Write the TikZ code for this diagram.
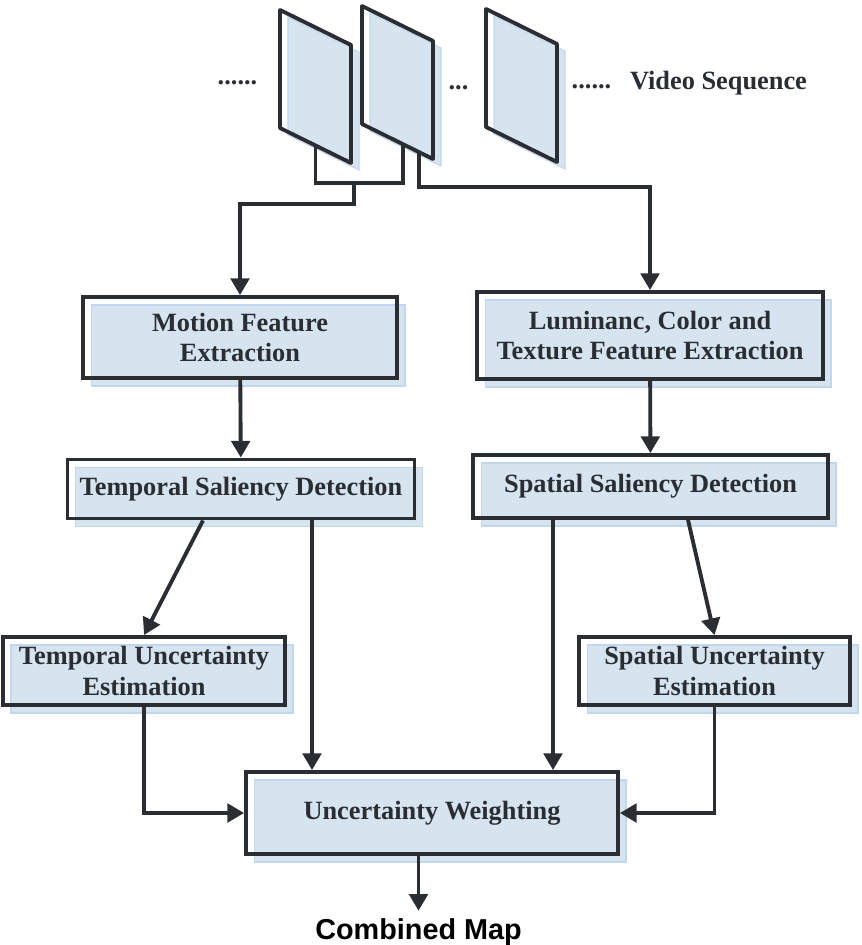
\documentclass[tikz,border=0pt]{standalone}
\usepackage{fontspec}
\setmainfont{Liberation Serif}
\newfontfamily\arialfont{Liberation Sans}
\usetikzlibrary{arrows.meta,calc,shadows}
\definecolor{linegray}{RGB}{42,46,51}
\definecolor{paleblue}{RGB}{214,228,240}
\definecolor{edgeblue}{RGB}{194,214,238}

\tikzset{
  blk/.style={draw=linegray, line width=2.2pt, align=center, text=linegray,
    font=\bfseries\fontsize{15}{17.6}\selectfont, inner sep=0pt,
    drop shadow={shadow xshift=0.16cm, shadow yshift=-0.16cm, fill=paleblue,
      draw=edgeblue, line width=0.6pt, opacity=1}},
  lbl/.style={text=linegray, font=\bfseries\fontsize{15}{17.6}\selectfont, anchor=base, inner sep=0pt},
  wire/.style={draw=linegray, line width=2.2pt},
  arr/.style={wire, -{Triangle[length=9.5pt,width=10.5pt]}}
}

\begin{document}
\begin{tikzpicture}[x=0.02cm,y=-0.02cm]
\useasboundingbox (0,0) rectangle (861,945);
% video frames
\foreach \i/\x/\y in {1/280/10, 2/362/6, 3/486/9} {
  \fill[paleblue, draw=edgeblue, line width=0.6pt] (\x+8,\y+7) -- ++(71,35) -- ++(0,118) -- ++(-71,-35) -- cycle;
  \draw[wire, line join=round] (\x,\y) coordinate (f\i tl) -- ++(71,35) coordinate (f\i tr)
    -- ++(0,118) coordinate (f\i br) -- ++(-71,-35) coordinate (f\i bl) -- cycle;
}
\node[lbl] (dots1) at (237.5,85) {......};
\node[lbl] (dots2) at (458.5,90) {...};
\node[lbl] (dots3) at (591.5,89) {......};
\node[lbl] (video) at (718.5,90) {Video Sequence};

% blocks
\node[blk, minimum width=6.28cm, minimum height=1.62cm] (motion) at (240,337.5) {Motion Feature\\Extraction};
\node[blk, minimum width=6.92cm, minimum height=1.74cm] (lum) at (650,335.5) {Luminanc, Color and\\Texture Feature Extraction};
\node[blk, minimum width=6.94cm, minimum height=1.18cm] (tsal) at (241,489) {Temporal Saliency Detection};
\node[blk, minimum width=7.10cm, minimum height=1.26cm] (ssal) at (650.5,486.5) {Spatial Saliency Detection};
\node[blk, minimum width=5.64cm, minimum height=1.36cm] (tunc) at (144,671) {Temporal Uncertainty\\Estimation};
\node[blk, minimum width=5.42cm, minimum height=1.36cm] (sunc) at (714.5,671) {Spatial Uncertainty\\Estimation};
\node[blk, minimum width=7.44cm, minimum height=1.64cm] (weight) at (432,813) {Uncertainty Weighting};
\node[anchor=base, inner ysep=4pt, font=\arialfont\bfseries\fontsize{16.4}{19}\selectfont] (comb) at (418.5,939) {Combined Map};

% connectors
\coordinate (merge) at (354,183);
\draw[wire] ($(f1bl)!0.5!(f1br)$) |- (merge) -| ($(f2bl)!0.58!(f2br)$);
\draw[arr] (merge) -- ++(0,21) -| (motion.north);
\draw[arr] ($(f2bl)!0.8!(f2br)$) -- ++(0,35) -| (lum.north);
\draw[arr] (motion) -- (tsal);
\draw[arr] (lum) -- (ssal);
\draw[arr] ($(tsal.south)+(-38,0)$) -- (tunc.north);
\draw[arr] ($(tsal.south)+(71,0)$) coordinate (t1) -- (t1 |- weight.north);
\draw[arr] ($(ssal.south)+(-97.5,0)$) coordinate (s1) -- (s1 |- weight.north);
\draw[arr] ($(ssal.south)+(37.5,0)$) -- (sunc.north);
\draw[arr] (tunc.south) |- (weight.west);
\draw[arr] (sunc.south) |- (weight.east);
\draw[arr] (weight.south -| comb.north) -- (comb.north);
\end{tikzpicture}
\end{document}
